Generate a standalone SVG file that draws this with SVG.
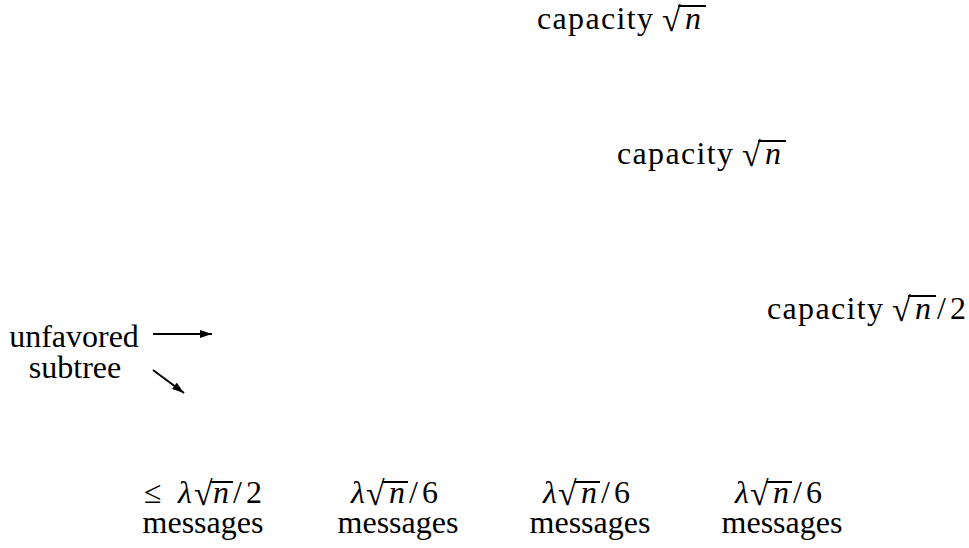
<svg xmlns="http://www.w3.org/2000/svg" width="969" height="548" viewBox="0 0 969 548">
<style>
.t{font-family:"Liberation Serif","Times New Roman",serif;font-size:32px;fill:#000}
.it{font-style:italic}
.r{font-size:34px}
.bar{stroke:#000;stroke-width:2}
.conn{stroke:#000;stroke-width:2;fill:none}
</style>
<defs>
<marker id="ah" markerWidth="12" markerHeight="8" refX="12" refY="4" orient="auto" markerUnits="userSpaceOnUse">
<path d="M0,0 L12,4 L0,8 Z" fill="#000"/>
</marker>
</defs>
<g id="cap1">
<text class="t" x="537" y="29" textLength="116" lengthAdjust="spacing">capacity</text>
<text class="t" y="29"><tspan class="r" x="662" dy="2">√</tspan><tspan class="it" x="685" dy="-2">n</tspan></text>
<line class="bar" x1="678" y1="6" x2="706" y2="6"/>
</g>
<g id="cap2">
<text class="t" x="617" y="164" textLength="116" lengthAdjust="spacing">capacity</text>
<text class="t" y="164"><tspan class="r" x="742" dy="2">√</tspan><tspan class="it" x="765" dy="-2">n</tspan></text>
<line class="bar" x1="758" y1="141" x2="786" y2="141"/>
</g>
<g id="cap3">
<text class="t" x="767" y="319" textLength="116" lengthAdjust="spacing">capacity</text>
<text class="t" y="319"><tspan class="r" x="892" dy="2">√</tspan><tspan class="it" x="915" dy="-2">n</tspan><tspan x="937">/</tspan><tspan x="950">2</tspan></text>
<line class="bar" x1="908" y1="296" x2="936" y2="296"/>
</g>
<g id="unfavored">
<text class="t" x="74" y="347" text-anchor="middle">unfavored</text>
<text class="t" x="75" y="378" text-anchor="middle">subtree</text>
</g>
<g id="col1">
<text class="t" y="503"><tspan x="144">≤</tspan><tspan class="it" x="178">λ</tspan><tspan class="r" x="194" dy="2">√</tspan><tspan class="it" x="213" dy="-2">n</tspan><tspan x="233">/</tspan><tspan x="246">2</tspan></text>
<line class="bar" x1="210" y1="482" x2="233" y2="482"/>
<text class="t" x="203" y="533" text-anchor="middle">messages</text>
</g>
<g id="col2">
<text class="t" y="503"><tspan class="it" x="351">λ</tspan><tspan class="r" x="366" dy="2">√</tspan><tspan class="it" x="389" dy="-2">n</tspan><tspan x="409">/</tspan><tspan x="422">6</tspan></text>
<line class="bar" x1="382" y1="482" x2="408" y2="482"/>
<text class="t" x="398" y="533" text-anchor="middle">messages</text>
</g>
<g id="col3">
<text class="t" y="503"><tspan class="it" x="543">λ</tspan><tspan class="r" x="558" dy="2">√</tspan><tspan class="it" x="581" dy="-2">n</tspan><tspan x="601">/</tspan><tspan x="614">6</tspan></text>
<line class="bar" x1="574" y1="482" x2="600" y2="482"/>
<text class="t" x="590" y="533" text-anchor="middle">messages</text>
</g>
<g id="col4">
<text class="t" y="503"><tspan class="it" x="735">λ</tspan><tspan class="r" x="750" dy="2">√</tspan><tspan class="it" x="773" dy="-2">n</tspan><tspan x="793">/</tspan><tspan x="806">6</tspan></text>
<line class="bar" x1="766" y1="482" x2="792" y2="482"/>
<text class="t" x="782" y="533" text-anchor="middle">messages</text>
</g>
<g id="connectors">
<line class="conn" x1="153" y1="334" x2="212" y2="334" marker-end="url(#ah)"/>
<line class="conn" x1="153" y1="370" x2="184" y2="393" marker-end="url(#ah)"/>
</g>
</svg>
